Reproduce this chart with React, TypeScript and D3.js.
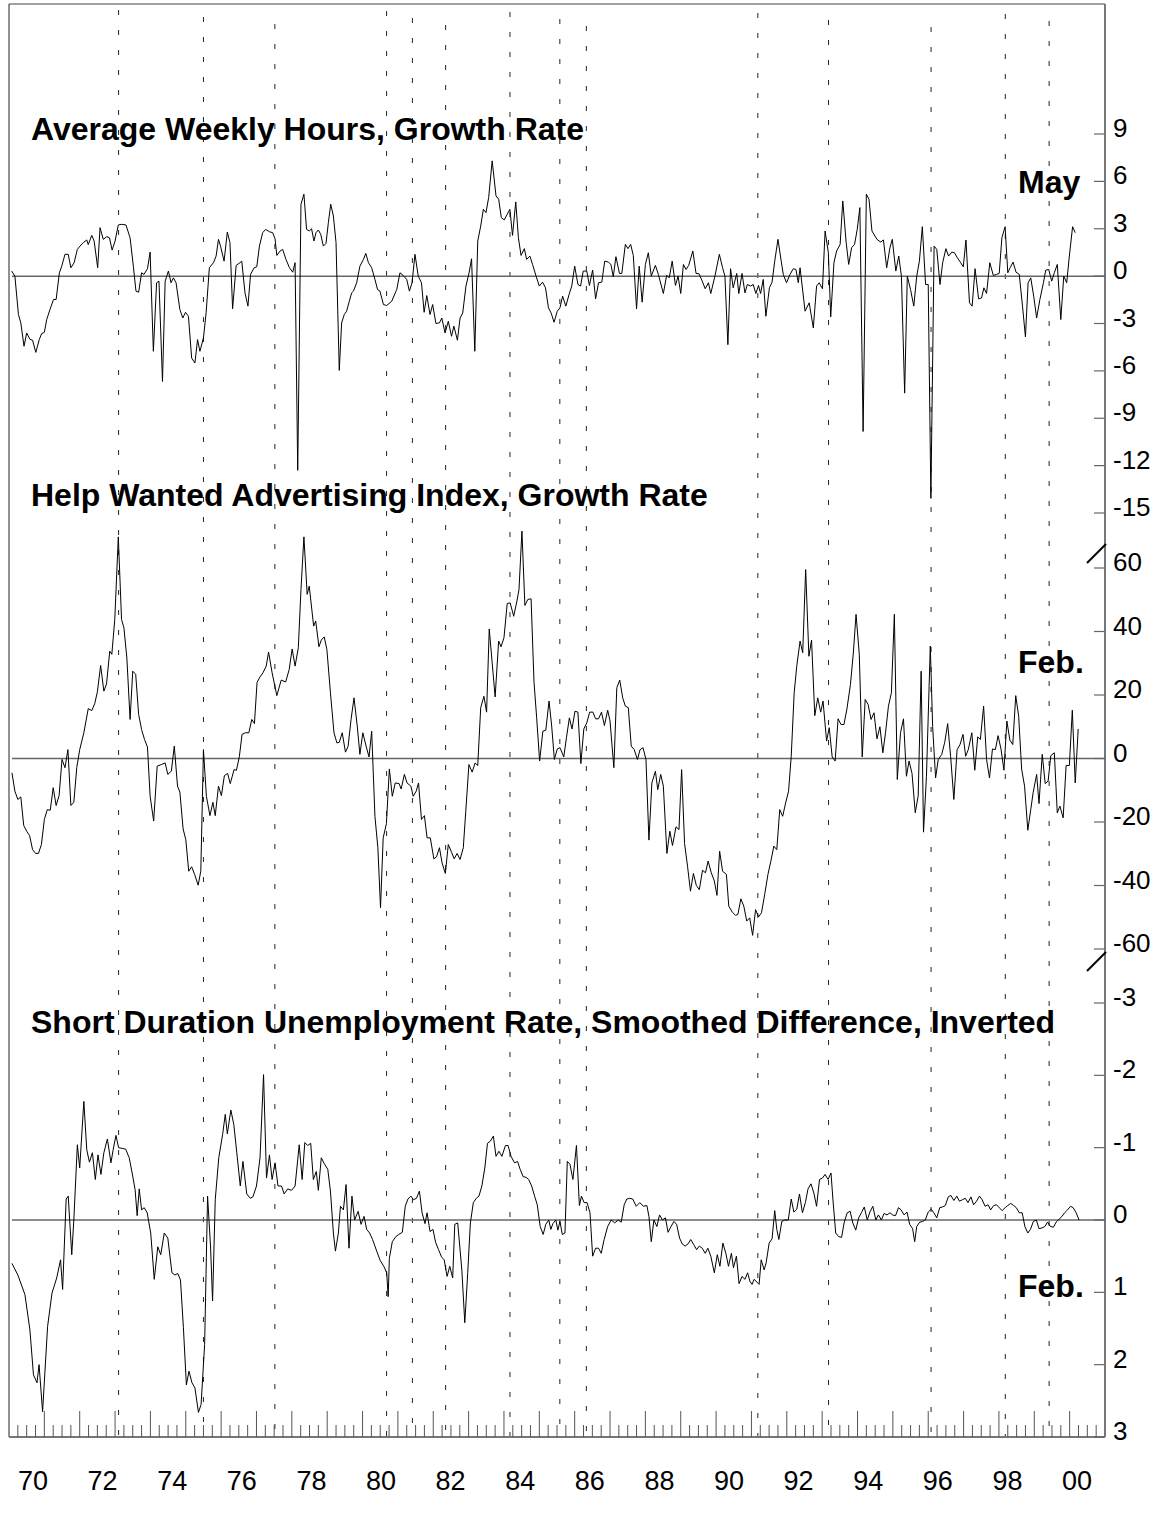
import React from 'react';
import * as d3 from 'd3';

// [months since Jan 1970, value]
const hoursSeries: [number, number][] = [
[0.9,0.32],[2.0,0],[3.2,-2.43],[4.0,-2.96],[5.1,-4.44],[6.0,-3.6],[7.1,-4.0],[8.0,-4.06],[9.1,-4.83],[10.3,-4.0],[11.1,-3.64],[12.0,-3.56],[12.8,-2.75],[13.9,-2.12],[15.1,-1.48],[16.0,-1.48],[17.1,0.21],[17.9,0.63],[19.0,1.38],[20.1,1.38],[21.0,0.53],[22.1,0.85],[23.2,1.69],[24.1,1.9],[25.2,2.12],[26.4,2.29],[26.9,2.0],[28.1,2.58],[28.9,2.22],[30.1,0.53],[30.9,3.07],[32.0,2.33],[33.2,2.5],[34.1,2.43],[35.0,1.65],[36.0,2.22],[37.1,3.24],[38.2,3.28],[39.7,3.24],[41.1,2.43],[42.2,0.63],[43.1,-0.95],[44.0,-1.02],[45.0,0.21],[45.8,0.11],[47.0,0.47],[47.9,1.52],[49.0,-4.76],[50.1,-0.42],[50.9,-0.32],[52.1,-6.67],[53.0,-0.32],[54.1,0.32],[55.0,-0.42],[55.8,-0.11],[56.7,-0.42],[58.0,-2.12],[59.0,-2.65],[59.9,-2.29],[60.9,-2.54],[62.0,-5.19],[63.1,-5.5],[64.0,-4.02],[64.8,-4.76],[66.0,-3.92],[66.9,-2.33],[68.0,0.53],[69.4,0.85],[70.3,1.27],[71.1,2.33],[71.8,1.9],[73.0,0.95],[74.1,2.79],[75.0,2.12],[75.9,-2.07],[77.1,0.68],[78.4,0.85],[79.0,0.95],[80.1,-1.06],[81.1,-1.9],[82.0,0.11],[83.2,0.53],[84.1,0.59],[85.0,1.9],[86.1,2.75],[87.1,2.96],[88.4,2.81],[89.5,2.75],[90.3,2.37],[90.9,1.31],[92.0,1.59],[92.9,1.69],[94.0,1.06],[95.2,0.53],[96.3,0.25],[97.1,0.85],[98.0,-12.3],[99.1,4.55],[100.1,5.19],[101.0,2.96],[101.9,2.86],[102.7,3.0],[103.5,2.22],[104.2,2.75],[105.0,2.92],[105.8,2.65],[106.7,1.9],[107.6,2.07],[108.4,3.39],[109.2,4.55],[110.1,3.81],[111.0,2.12],[112.1,-5.97],[112.9,-2.96],[113.8,-2.43],[114.6,-2.22],[115.5,-1.59],[116.3,-1.06],[116.9,-0.95],[118.0,-0.42],[119.1,0.63],[120.3,1.06],[121.1,1.44],[122.0,0.85],[123.1,0.53],[124.2,-0.21],[125.1,-0.85],[125.9,-0.95],[127.1,-1.8],[128.2,-1.86],[129.9,-1.59],[131.6,-0.85],
[132.7,0.21],[133.8,0.04],[135.0,-0.21],[135.9,-0.95],[136.8,-0.42],[137.8,1.38],[138.9,0],[140.0,-0.42],[140.9,-2.29],[141.8,-1.23],[142.9,-2.43],[143.8,-1.8],[144.9,-3.0],[146.1,-2.96],[146.9,-2.65],[148.0,-3.6],[149.1,-2.86],[150.2,-3.81],[151.0,-3.17],[152.2,-4.06],[153.1,-2.65],[154.0,-2.33],[155.1,-0.63],[156.2,0.25],[157.0,1.1],[158.1,-4.76],[159.1,2.22],[160.1,3.17],[161.0,4.23],[161.9,4.02],[162.8,4.97],[164.0,7.3],[165.3,5.08],[166.2,4.87],[167.1,3.7],[168.1,3.56],[169.1,3.92],[170.0,4.23],[170.9,2.58],[172.0,4.7],[172.9,2.43],[173.8,1.31],[174.9,1.74],[175.7,1.06],[176.8,1.27],[177.7,0.74],[178.9,0],[180.0,-0.63],[181.1,-0.38],[182.1,-0.74],[183.1,-2.01],[184.0,-2.33],[185.0,-2.92],[186.1,-2.22],[187.0,-2.01],[187.9,-1.27],[189.0,-1.9],[190.1,-1.16],[191.0,-0.63],[192.0,0.63],[193.1,-0.53],[194.0,-0.63],[194.9,0.32],[196.1,0.32],[197.0,-0.59],[198.1,0.38],[199.1,-1.44],[200.1,-0.42],[201.2,-0.38],[202.2,0.95],[203.4,0.89],[204.3,0.74],[205.1,-0.04],[206.0,1.23],[207.2,0.17],[208.0,0.17],[209.2,2.01],[210.1,1.74],[211.0,2.01],[211.9,1.31],[213.0,-2.07],[213.9,0.63],[214.9,-1.65],[216.0,0.74],[217.0,1.48],[218.0,0],[219.4,0.68],[220.4,0.11],[222.1,-1.1],[223.2,0.04],[224.1,-0.1],[225.1,0.95],[226.2,-0.59],[227.1,0],[228.0,-1.1],[228.9,0.74],[229.8,0.42],[230.7,0.68],[232.1,1.59],[233.2,0.17],[234.2,0.15],[235.3,-0.32],[236.3,-0.8],[237.4,-0.42],[238.2,-1.1],[239.6,0],[241.1,1.38],[242.2,0.53],[243.0,0],[244.0,-4.34],[244.9,0.47],[245.8,-0.74],[247.0,0.17],[247.7,-1.1],[248.8,0.17],[249.8,-1.06],[250.6,-0.53],[251.7,-0.63],[252.6,-0.53],[253.5,-1.1],[254.4,-0.59],[255.1,-1.1],[256.0,-0.21],[256.9,-2.54],[258.1,-0.74],[259.0,-0.38],[259.9,0.95],[261.0,2.33],[262.1,0.95],[262.8,0.11],[263.9,-0.42],[265.1,0.11],[266.2,0.47],[267.1,0.42],[267.9,-0.42],
[268.5,0.53],[270.2,-2.22],[271.6,-1.69],[273.0,-3.28],[274.1,-0.63],[275.0,-0.42],[276.1,-0.8],[277.0,2.86],[278.1,1.48],[278.9,-2.58],[280.0,0.85],[280.9,1.59],[282.1,2.01],[283.0,4.76],[284.1,2.22],[285.0,0.74],[286.0,1.8],[287.0,2.01],[287.9,2.96],[288.8,4.34],[289.9,-9.84],[291.0,5.19],[291.9,4.87],[292.9,2.86],[293.9,2.54],[294.8,2.29],[295.9,2.16],[296.8,2.29],[297.9,0.53],[299.0,1.8],[299.8,2.33],[301.0,0.32],[302.0,1.27],[302.9,0],[304.0,-7.41],[304.9,0],[306.0,-0.85],[307.1,-1.9],[308.1,0],[309.0,0.95],[310.0,3.13],[311.1,-0.53],[312.0,-0.53],[312.9,-14.07],[314.0,1.9],[314.9,1.69],[316.0,-0.53],[316.9,0.85],[318.0,1.74],[318.9,1.27],[320.0,1.52],[320.9,1.48],[321.9,1.16],[323.0,0.85],[323.9,0.59],[324.8,2.29],[326.0,-1.69],[326.9,-1.9],[327.9,0.47],[329.1,-1.44],[330.1,-1.38],[330.9,-0.74],[331.8,-1.1],[332.9,0.85],[334.1,0.04],[335.2,0.11],[336.1,0.17],[337.0,2.43],[338.1,3.13],[339.0,0.21],[339.8,0.53],[340.8,0.89],[341.8,0.25],[342.9,0.11],[344.0,-1.9],[345.0,-3.85],[345.9,-0.42],[346.8,-0.11],[347.8,-1.27],[348.8,-2.65],[349.9,-1.48],[351.1,-0.42],[351.9,0.38],[352.9,0.42],[353.9,-0.32],[354.8,0.21],[355.8,0.74],[357.0,-2.75],[358.0,0],[359.0,-0.42],[359.9,1.27],[361.0,3.13],[361.9,2.75]
];

const helpWantedSeries: [number, number][] = [
[1,-4.5],[2,-10.3],[3,-12.9],[4,-12.1],[5,-21.1],[6,-22.9],[7,-24.3],[8,-28.7],[9,-29.9],[10,-29.9],[11,-27.1],[12,-19.2],[13,-16.1],[14,-16.3],[15,-9.2],[16,-14.8],[17,-11.7],[18,-0.3],[19,-2.9],[20,2.8],[21,-14.8],[22,-13.8],[23,-2.9],[24,2.8],[25.4,8.1],[26.9,15.7],[28.1,15.1],[29.1,17.3],[30,21.0],[31.1,29.3],[32.2,21.2],[33.1,23.5],[34.2,33.8],[34.9,32.8],[35.9,43.8],[37.1,69.8],[38.2,43.8],[39,41.2],[40,31.7],[41.1,12.3],[42,27.5],[43,26.5],[44,13.9],[45,9.1],[46,6.0],[47,3.6],[47.9,-11.9],[49.1,-19.7],[50.3,-2.4],[51.7,-1.9],[53,-1.4],[53.9,-5.0],[55.1,-4.0],[56.1,3.9],[57.2,-8.7],[58,-10.6],[59.1,-22.2],[60,-25.5],[61,-35.5],[62,-34.1],[63,-36.5],[64.2,-39.9],[65.1,-35.5],[66,2.8],[67,-11.9],[68.2,-18.0],[69.2,-13.8],[70,-18.0],[71.1,-8.7],[72.1,-11.7],[73.1,-5.4],[74.2,-4.7],[75.1,-7.9],[76.4,-3.5],[77.2,-3.7],[78.2,0.7],[79.1,7.6],[80.2,8.1],[81.4,8.1],[82.4,12.3],[83.3,11.0],[84.2,24.0],[85.2,25.7],[86.2,27.0],[87.3,29.1],[88.1,33.5],[89.3,27.0],[90.9,19.8],[92.4,24.7],[93.9,24.1],[95.1,28.0],[96.1,34.5],[97.1,29.1],[98.2,34.9],[99.1,53.2],[100.1,69.8],[101.2,51.7],[101.9,54.3],[103.4,41.7],[104.1,43.3],[105.2,35.2],[106,37.3],[107,38.3],[107.9,34.3],[109.1,20.7],[110.3,8.1],[111.3,4.9],[112.1,5.1],[113.1,8.1],[114.2,2.0],[115.1,3.9],[116.1,12.3],[117.1,19.1],[118.2,10.2],[119.1,1.3],[120.1,8.1],[121.2,3.9],[122.2,0.5],[123.1,8.6],[124.2,-18.2],[125.2,-28.1],[126.1,-47.0],[127,-25.0],[128.1,-20.5],[129.1,-3.3],[130.1,-11.9],[131.1,-7.7],[132.4,-7.9],[133.1,-9.6],[134.2,-5.0],[135.1,-7.7],[136.4,-8.7],[137.2,-11.9],[138.2,-10.3],[139,-7.7],[140,-19.2],[141,-18.0],[141.9,-25.0],[143,-25.0],[144.2,-31.6],[145.1,-31.0],[146.1,-28.1],[147,-32.9],[148.1,-36.2],[149.1,-27.1],[150.2,-29.5],[151.1,-31.6],[152.1,-29.9],[153.1,-31.8],[154.2,-28.1],[155,-17.1],[156.1,-1.9],[157.2,-4.3],[158.2,-1.4],[159.1,-2.2],[160.1,16.0],[161.2,19.6],[162.1,14.6],[163,40.8],[164,30.1],[165,19.4],[166.2,37.0],[167,35.2],[168,38.0],[169.1,48.8],[170.1,49.0],[171.3,44.8],[172.4,49.6],[173.1,53.2],[174.1,71.6],[175.1,48.2],[176.1,50.1],[177.2,50.3],[178.2,24.0],[179.1,12.8],[180.1,-0.8],[181.2,8.6],[182.2,8.9],[183.3,18.1],[184.2,10.2],[185.1,-0.3],[186.1,3.0],[187,3.4],
[188.3,0.5],[189.2,6.5],[190.2,12.8],[191.1,9.3],[192.1,14.9],[193.1,14.6],[194.1,-1.6],[195.1,9.3],[196.1,11.2],[197.1,14.6],[198.2,14.6],[199.1,12.5],[200.1,12.5],[201.1,14.6],[202.1,10.4],[203.2,15.2],[204.0,11.8],[205.3,-2.9],[206.3,22.3],[207.3,24.7],[208.3,19.1],[209.2,16.5],[210.2,16.0],[211.2,3.9],[212.2,2.8],[213.3,-0.3],[214.2,2.8],[215.2,3.4],[216.2,-0.3],[217.2,-25.7],[218.2,-7.7],[219.4,-4.0],[220.2,-9.8],[221.2,-5.0],[222.1,-8.7],[223.3,-29.9],[224.3,-22.9],[225.2,-27.4],[226.4,-21.5],[227.4,-22.4],[228.3,-3.5],[229.3,-26.8],[230.3,-33.9],[231.3,-41.8],[232.3,-36.2],[233.3,-40.0],[234.3,-41.3],[235.4,-35.2],[236.4,-36.0],[237.3,-32.3],[238.3,-35.8],[239.4,-38.6],[240.3,-43.1],[241.2,-29.2],[242.2,-35.5],[243.5,-36.5],[244.3,-46.5],[245.5,-48.4],[246.6,-49.4],[247.4,-49.1],[248.4,-44.2],[249.4,-46.5],[250.4,-51.2],[251.4,-50.2],[252.4,-55.7],[253.4,-47.6],[254.4,-49.9],[255.4,-48.6],[256.5,-42.8],[257.6,-36.5],[258.6,-32.3],[259.6,-27.6],[260.6,-28.7],[261.6,-16.1],[262.6,-18.2],[263.6,-14.0],[264.6,-10.3],[265.5,0.7],[266.5,20.7],[267.4,29.3],[268.5,37.0],[269.4,33.3],[270.4,59.5],[271.5,32.2],[272.4,37.3],[273.5,13.5],[274.5,19.1],[275.5,14.6],[276.3,18.1],[277.5,5.5],[278.4,9.7],[279.4,0.5],[280.4,-0.8],[281.4,12.5],[282.4,10.7],[283.4,10.7],[284.4,15.6],[285.6,23.3],[286.6,33.5],[287.5,45.4],[288.6,32.8],[289.6,0.5],[290.6,18.6],[291.6,17.0],[292.6,12.3],[293.6,14.4],[294.6,6.2],[295.6,10.0],[296.6,1.8],[297.5,8.1],[298.5,16.5],[299.5,20.7],[300.5,45.4],[301.5,-6.6],[302.6,8.1],[303.6,12.5],[304.6,-5.6],[305.5,-0.8],[306.5,-4.7],[307.6,-17.1],[308.6,-11.7],[309.6,27.5],[310.4,-23.2],[311.4,-5.6],[312.7,35.4],[313.5,10.0],[314.5,-6.1],[315.4,-0.3],[316.6,1.3],[317.6,5.1],[318.6,11.0],[319.6,0.7],[320.7,-12.9],[321.8,2.8],[322.8,4.4],[323.8,7.6],[324.7,0.7],[325.6,2.8],[326.8,8.1],[327.8,-3.7],[328.8,6.8],[329.7,6.0],[330.8,16.5],[331.8,-0.3],[332.8,-6.1],[333.8,3.0],[334.8,2.8],[335.7,7.2],[336.7,3.0],[337.7,-3.7],[338.7,11.8],[339.7,5.8],[340.7,4.4],[341.7,19.8],[342.7,13.3],[343.7,-3.3],[344.7,-8.7],[345.8,-22.6],[346.8,-16.1],[347.6,-10.8],[348.8,-5.0],[349.6,-14.2],[350.7,1.3],[351.7,-7.9],[352.7,-7.1],[353.6,0.9],[354.8,1.8],[355.8,-17.1],[356.7,-15.0],[357.8,-18.7],[358.8,-2.2],[359.9,-2.2],[360.9,15.2],[361.9,-7.7],[362.9,9.3]
];

const unemploymentSeries: [number, number][] = [
[1.0,0.60],[3.0,0.76],[5.4,1.03],[7.1,1.52],[8.3,2.14],[9.5,2.25],[10.2,2.0],[11.4,2.65],[13.1,1.47],[14.6,1.01],[16.2,0.80],[17.5,0.55],[18.2,0.96],[19.4,-0.29],[20.1,-0.33],[21.3,0.48],[22.0,0],[23.2,-1.04],[24.0,-0.72],[25.4,-1.64],[26.4,-0.97],[27.3,-0.8],[28.3,-0.93],[29.3,-0.56],[30.2,-0.9],[31.2,-0.63],[32.2,-0.93],[33.4,-1.12],[34.6,-0.79],[35.3,-0.96],[36.3,-1.17],[37.2,-1.0],[38.4,-0.99],[39.6,-0.98],[40.8,-0.86],[41.8,-0.65],[42.8,-0.42],[43.5,-0.06],[44.2,-0.43],[45.0,-0.14],[45.9,-0.17],[46.9,-0.1],[48.1,0.18],[49.3,0.82],[50.5,0.37],[51.5,0.48],[52.7,0.18],[53.9,0.25],[55.3,0.73],[56.3,0.76],[57.3,0.74],[58.2,0.83],[59.2,1.49],[60.2,2.28],[61.1,2.09],[62.1,2.25],[63.1,2.32],[64.3,2.66],[65.2,2.55],[66.4,1.72],[67.4,-0.33],[68.4,0.36],[69.1,1.12],[70.0,-0.28],[71.2,-0.86],[72.5,-1.18],[73.4,-1.46],[74.1,-1.19],[75.3,-1.52],[76.3,-1.32],[77.5,-0.86],[78.5,-0.47],[79.4,-0.81],[80.7,-0.36],[81.9,-0.3],[82.8,-0.32],[84.0,-0.47],[85.2,-0.86],[86.4,-2.01],[87.4,-0.58],[88.4,-0.9],[89.3,-0.56],[90.3,-0.79],[91.3,-0.47],[92.5,-0.47],[93.4,-0.36],[94.6,-0.43],[95.9,-0.41],[97.1,-0.47],[98.5,-1.04],[99.5,-0.56],[100.4,-1.07],[101.4,-1.03],[102.4,-1.06],[103.3,-0.56],[104.3,-0.67],[105.0,-0.41],[106.0,-0.86],[107.0,-0.78],[108.2,-0.7],[109.1,-0.4],[110.1,0.18],[110.8,0.43],[111.8,0.18],[112.5,-0.19],[113.5,-0.14],[114.4,-0.49],[115.4,0.39],[116.4,-0.33],[117.3,0],[118.5,-0.12],[119.5,0.06],[120.5,-0.05],[121.4,0.13],[122.4,0.18],[123.4,0.27],[124.8,0.43],[126.0,0.56],[127.2,0.64],[128.2,0.73],[128.7,1.06],[129.1,0.53],[130.1,0.3],[131.3,0.23],[132.3,0.2],[133.5,0.17],[134.5,-0.19],[135.4,-0.29],[136.4,-0.33],[137.3,-0.28],[138.3,-0.3],[139.3,-0.4],[140.2,-0.1],[141.2,0.05],[141.9,-0.1],[142.9,0.16],[143.9,0.13],[144.8,0.31],[145.8,0.41],[146.8,0.51],[147.7,0.55],[148.7,0.78],[149.6,0.64],[150.6,0.8],[151.3,0.06],[152.3,0.04],[153.7,0.69],[154.7,1.42],[155.7,0.73],[156.6,0.04],[157.6,-0.24],[158.6,-0.3],[159.5,-0.33],[160.5,-0.47],[161.5,-0.72],[162.4,-1.06],[163.4,-1.09],[164.4,-1.16],[165.3,-0.88],[166.3,-0.95],[167.3,-0.88],[168.5,-1.03],[169.4,-1.03],[170.4,-0.88],[171.6,-0.79],[172.6,-0.81],[173.5,-0.7],[174.5,-0.6],[175.5,-0.59],[176.4,-0.56],[177.4,-0.47],[178.4,-0.33],[179.3,-0.21],[180.3,0.09],[181.3,0.2],[182.2,0.06],[183.2,0],[183.9,0.13],[184.6,0.05],[185.6,0],[186.3,0.14],[187.0,0.02],[187.8,0.2],[188.7,0.18],[189.5,-0.81],[190.4,-0.77],[191.4,-0.56],[192.6,-1.03],[193.6,-0.2],[194.3,-0.33],[195.2,-0.24],[196.2,-0.24],[197.2,-0.1],[198.1,0.5],[199.1,0.39],[200.1,0.39],[201.0,0.46],[202.0,0.27],[203.2,0.09],[204.4,0],[205.6,0.04],[206.8,0],[207.8,0.03],[208.8,-0.21],[209.7,-0.29],[210.7,-0.3],[211.7,-0.29],[212.9,-0.19],[214.1,-0.24],[215.3,-0.19],[216.5,-0.2],[217.2,-0.05],[218.0,0.3],[218.9,0],[219.9,0.09],[220.8,-0.07],[221.8,0],[222.8,-0.03],[223.7,0.17],[224.7,0.09],[225.7,0.02],[226.6,0.06],[227.6,0.25],[228.5,0.33],[229.5,0.36],[230.5,0.33],[231.4,0.27],[232.4,0.34],[233.4,0.41],[234.3,0.36],[235.3,0.39],[236.3,0.46],[237.2,0.39],[238.2,0.5],[239.4,0.73],[240.4,0.48],[241.3,0.64],[242.3,0.32],[243.3,0.46],[244.2,0.64],[245.2,0.46],[245.9,0.66],[246.9,0.5],[247.8,0.88],[248.8,0.78],[249.8,0.82],[250.7,0.73],[251.5,0.85],[252.2,0.89],[252.9,0.82],[253.9,0.86],[254.6,0.89],[255.3,0.55],[256.3,0.69],[257.0,0.59],[258.0,0.32],[259.0,0.26],[259.9,-0.13],[260.6,0.13],[261.3,0.27],[262.3,0.02],[263.3,0],[264.5,0],[265.5,-0.29],[266.4,-0.11],[267.4,-0.15],[268.3,-0.36],[269.3,-0.1],[270.3,-0.24],[271.2,-0.43],[272.2,-0.5],[273.2,-0.37],[274.1,-0.19],[275.1,-0.56],[276.1,-0.58],[277.0,-0.63],[278.0,-0.56],[279.0,-0.65],[279.7,-0.26],[280.6,0.18],[281.6,0.23],[282.6,0.24],[283.5,0.03],[284.5,-0.1],[285.5,-0.12],[286.4,0.04],[287.4,0.14],[288.4,-0.03],[289.3,-0.1],[290.3,-0.18],[291.3,0],[292.2,-0.11],[293.2,-0.19],[294.2,0],[295.1,-0.07],[296.1,0],[297.0,-0.09],[298.0,-0.07],[299.0,-0.1],[299.9,-0.07],[300.9,-0.06],[301.9,-0.17],[302.8,-0.14],[303.8,-0.07],[304.8,-0.11],[305.7,0.06],[306.7,0.12],[307.4,0.3],[308.1,0.09],[309.1,0.03],[310.1,0.02],[311.0,0],[312.0,-0.11],[313.0,-0.15],[313.9,-0.1],[314.9,-0.03],[315.9,-0.17],[316.8,-0.18],[317.8,-0.2],[318.8,-0.32],[319.7,-0.34],[320.7,-0.27],[321.7,-0.33],[322.6,-0.26],[323.6,-0.28],[324.6,-0.3],[325.5,-0.24],[326.5,-0.32],[327.4,-0.21],[328.4,-0.26],[329.4,-0.33],[330.3,-0.28],[331.3,-0.19],[332.3,-0.21],[333.2,-0.14],[334.2,-0.2],[335.2,-0.21],[336.1,-0.17],[337.1,-0.13],[338.1,-0.17],[339.0,-0.2],[340.0,-0.23],[341.0,-0.2],[341.9,-0.17],[342.9,-0.1],[343.9,-0.1],[344.8,0.09],[345.8,0.18],[346.7,0.13],[347.7,0.02],[348.7,0],[349.6,0.12],[350.6,0.11],[351.6,0.09],[352.5,0.03],[353.5,0.09],[354.5,0.1],[355.4,0.03],[356.4,-0.01],[357.4,-0.05],[358.3,-0.1],[359.3,-0.14],[360.3,-0.19],[361.2,-0.17],[362.2,-0.1],[363.2,0]
];

const turningPoints = [1973.1, 1975.5, 1977.52, 1980.68, 1981.41, 1982.35, 1984.17, 1985.58, 1986.33, 1991.18, 1993.18, 1996.08, 1998.18, 1999.42];

const hoursTicks = [9, 6, 3, 0, -3, -6, -9, -12, -15];
const helpTicks = [60, 40, 20, 0, -20, -40, -60];
const unempTicks = [-3, -2, -1, 0, 1, 2, 3];
const yearLabelYears = [1970, 1972, 1974, 1976, 1978, 1980, 1982, 1984, 1986, 1988, 1990, 1992, 1994, 1996, 1998, 2000];
const yearLabels = ['70', '72', '74', '76', '78', '80', '82', '84', '86', '88', '90', '92', '94', '96', '98', '00'];

const titles = [
  'Average Weekly Hours, Growth Rate',
  'Help Wanted Advertising Index, Growth Rate',
  'Short Duration Unemployment Rate, Smoothed Difference, Inverted',
];
const dateNotes = ['May', 'Feb.', 'Feb.'];

const FONT = '"Liberation Sans", Arial, Helvetica, sans-serif';

export default function App() {
  const W = 1168, H = 1522;
  const x = d3.scaleLinear().domain([1970, 2001]).range([9, 1105]);
  const xLabel = d3.scaleLinear().domain([1970, 2000]).range([33, 1077]);
  const y1 = d3.scaleLinear().domain([-15, 9]).range([513, 134]);
  const y2 = d3.scaleLinear().domain([-60, 60]).range([949, 568]);
  const y3 = d3.scaleLinear().domain([-3, 3]).range([1003, 1437]);
  const toYear = (m: number) => 1970 + m / 12;
  const mk = (y: d3.ScaleLinear<number, number>) =>
    d3.line<[number, number]>().x(d => x(toYear(d[0]))).y(d => y(d[1]));

  const axisX = x(2001);
  const bottom = 1437;
  const top = 4;

  const quarters = d3.range(1970.25, 2001, 0.25);

  const panels = [
    { y: y1, ticks: hoursTicks, data: hoursSeries },
    { y: y2, ticks: helpTicks, data: helpWantedSeries },
    { y: y3, ticks: unempTicks, data: unemploymentSeries },
  ];
  const titleBaselines = [140, 506, 1033];
  const noteBaselines = [193, 673, 1297];

  return (
    <svg width={W} height={H} style={{ position: 'absolute', left: 0, top: 0, background: '#fff' }} fontFamily={FONT}>
      <rect x={0} y={0} width={W} height={H} fill="#fff" />
      {turningPoints.map((t, i) => (
        <line key={'tp' + i} x1={x(t)} x2={x(t)} y1={top + 6 + ((i * 7) % 20)} y2={bottom}
          stroke="#222" strokeWidth={1} strokeDasharray="5 15" />
      ))}
      <line x1={x(1970)} x2={axisX} y1={top} y2={top} stroke="#444" strokeWidth={1} />
      <line x1={x(1970)} x2={x(1970)} y1={top} y2={bottom} stroke="#222" strokeWidth={1} />
      <line x1={axisX} x2={axisX} y1={top} y2={bottom} stroke="#777" strokeWidth={2} />
      <line x1={x(1970)} x2={axisX} y1={bottom} y2={bottom} stroke="#777" strokeWidth={2} />
      {quarters.map((q, i) => {
        const major = Math.abs(q - Math.round(q)) < 1e-6;
        return <line key={'q' + i} x1={x(q)} x2={x(q)} y1={bottom} y2={bottom - (major ? 26 : 12)} stroke="#555" strokeWidth={1} />;
      })}
      {yearLabels.map((l, i) => (
        <text key={'yl' + i} x={xLabel(yearLabelYears[i])} y={1490} fontSize={27} textAnchor="middle" fill="#000">{l}</text>
      ))}
      {panels.map((p, pi) => (
        <g key={'p' + pi}>
          <line x1={12} x2={axisX} y1={p.y(0)} y2={p.y(0)} stroke="#666" strokeWidth={1.5} />
          {p.ticks.map((t, ti) => (
            <g key={'t' + ti}>
              <line x1={axisX - 11} x2={axisX} y1={p.y(t)} y2={p.y(t)} stroke="#666" strokeWidth={1.2} />
              <text x={1113} y={p.y(t) + 3} fontSize={26} fill="#000">{t}</text>
            </g>
          ))}
          <path d={mk(p.y)(p.data) || ''} fill="none" stroke="#000" strokeWidth={1} strokeLinejoin="round" />
          <text x={31} y={titleBaselines[pi]} fontSize={32} fontWeight="bold" fill="#000">{titles[pi]}</text>
          <text x={1018} y={noteBaselines[pi]} fontSize={32} fontWeight="bold" fill="#000">{dateNotes[pi]}</text>
        </g>
      ))}
      <line x1={1087} y1={563} x2={1106} y2={544} stroke="#000" strokeWidth={2} />
      <line x1={1087} y1={971} x2={1106} y2={952} stroke="#000" strokeWidth={2} />
    </svg>
  );
}
